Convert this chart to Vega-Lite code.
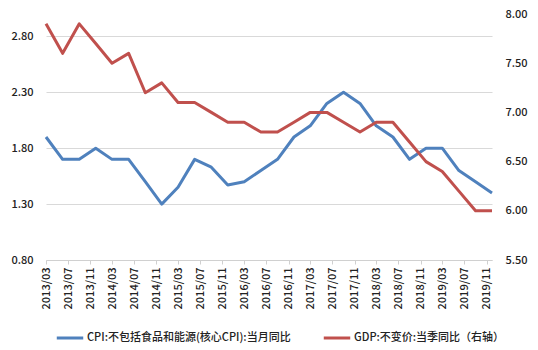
{
  "$schema": "https://vega.github.io/schema/vega-lite/v6.json",
  "width": 446,
  "height": 246,
  "autosize": {"type": "none"},
  "padding": {"left": 46, "top": 14, "right": 46, "bottom": 90},
  "background": "white",
  "config": {
    "view": {"stroke": null},
    "font": "Noto Sans CJK SC",
    "axis": {"labelFont": "Noto Sans CJK SC", "labelColor": "#222222", "labelFontSize": 11, "labelFontWeight": 500, "titleFontSize": 0},
    "legend": {"labelFont": "Noto Sans CJK SC"}
  },
  "data": {
    "values": [
      {"date": "2013-03-01", "series": "CPI:不包括食品和能源(核心CPI):当月同比", "value": 1.9},
      {"date": "2013-06-01", "series": "CPI:不包括食品和能源(核心CPI):当月同比", "value": 1.7},
      {"date": "2013-09-01", "series": "CPI:不包括食品和能源(核心CPI):当月同比", "value": 1.7},
      {"date": "2013-12-01", "series": "CPI:不包括食品和能源(核心CPI):当月同比", "value": 1.8},
      {"date": "2014-03-01", "series": "CPI:不包括食品和能源(核心CPI):当月同比", "value": 1.7},
      {"date": "2014-06-01", "series": "CPI:不包括食品和能源(核心CPI):当月同比", "value": 1.7},
      {"date": "2014-09-01", "series": "CPI:不包括食品和能源(核心CPI):当月同比", "value": 1.5},
      {"date": "2014-12-01", "series": "CPI:不包括食品和能源(核心CPI):当月同比", "value": 1.3},
      {"date": "2015-03-01", "series": "CPI:不包括食品和能源(核心CPI):当月同比", "value": 1.45},
      {"date": "2015-06-01", "series": "CPI:不包括食品和能源(核心CPI):当月同比", "value": 1.7},
      {"date": "2015-09-01", "series": "CPI:不包括食品和能源(核心CPI):当月同比", "value": 1.63},
      {"date": "2015-12-01", "series": "CPI:不包括食品和能源(核心CPI):当月同比", "value": 1.47},
      {"date": "2016-03-01", "series": "CPI:不包括食品和能源(核心CPI):当月同比", "value": 1.5},
      {"date": "2016-06-01", "series": "CPI:不包括食品和能源(核心CPI):当月同比", "value": 1.6},
      {"date": "2016-09-01", "series": "CPI:不包括食品和能源(核心CPI):当月同比", "value": 1.7},
      {"date": "2016-12-01", "series": "CPI:不包括食品和能源(核心CPI):当月同比", "value": 1.9},
      {"date": "2017-03-01", "series": "CPI:不包括食品和能源(核心CPI):当月同比", "value": 2.0},
      {"date": "2017-06-01", "series": "CPI:不包括食品和能源(核心CPI):当月同比", "value": 2.2},
      {"date": "2017-09-01", "series": "CPI:不包括食品和能源(核心CPI):当月同比", "value": 2.3},
      {"date": "2017-12-01", "series": "CPI:不包括食品和能源(核心CPI):当月同比", "value": 2.2},
      {"date": "2018-03-01", "series": "CPI:不包括食品和能源(核心CPI):当月同比", "value": 2.0},
      {"date": "2018-06-01", "series": "CPI:不包括食品和能源(核心CPI):当月同比", "value": 1.9},
      {"date": "2018-09-01", "series": "CPI:不包括食品和能源(核心CPI):当月同比", "value": 1.7},
      {"date": "2018-12-01", "series": "CPI:不包括食品和能源(核心CPI):当月同比", "value": 1.8},
      {"date": "2019-03-01", "series": "CPI:不包括食品和能源(核心CPI):当月同比", "value": 1.8},
      {"date": "2019-06-01", "series": "CPI:不包括食品和能源(核心CPI):当月同比", "value": 1.6},
      {"date": "2019-09-01", "series": "CPI:不包括食品和能源(核心CPI):当月同比", "value": 1.5},
      {"date": "2019-12-01", "series": "CPI:不包括食品和能源(核心CPI):当月同比", "value": 1.4},
      {"date": "2013-03-01", "series": "GDP:不变价:当季同比（右轴）", "value": 7.9},
      {"date": "2013-06-01", "series": "GDP:不变价:当季同比（右轴）", "value": 7.6},
      {"date": "2013-09-01", "series": "GDP:不变价:当季同比（右轴）", "value": 7.9},
      {"date": "2013-12-01", "series": "GDP:不变价:当季同比（右轴）", "value": 7.7},
      {"date": "2014-03-01", "series": "GDP:不变价:当季同比（右轴）", "value": 7.5},
      {"date": "2014-06-01", "series": "GDP:不变价:当季同比（右轴）", "value": 7.6},
      {"date": "2014-09-01", "series": "GDP:不变价:当季同比（右轴）", "value": 7.2},
      {"date": "2014-12-01", "series": "GDP:不变价:当季同比（右轴）", "value": 7.3},
      {"date": "2015-03-01", "series": "GDP:不变价:当季同比（右轴）", "value": 7.1},
      {"date": "2015-06-01", "series": "GDP:不变价:当季同比（右轴）", "value": 7.1},
      {"date": "2015-09-01", "series": "GDP:不变价:当季同比（右轴）", "value": 7.0},
      {"date": "2015-12-01", "series": "GDP:不变价:当季同比（右轴）", "value": 6.9},
      {"date": "2016-03-01", "series": "GDP:不变价:当季同比（右轴）", "value": 6.9},
      {"date": "2016-06-01", "series": "GDP:不变价:当季同比（右轴）", "value": 6.8},
      {"date": "2016-09-01", "series": "GDP:不变价:当季同比（右轴）", "value": 6.8},
      {"date": "2016-12-01", "series": "GDP:不变价:当季同比（右轴）", "value": 6.9},
      {"date": "2017-03-01", "series": "GDP:不变价:当季同比（右轴）", "value": 7.0},
      {"date": "2017-06-01", "series": "GDP:不变价:当季同比（右轴）", "value": 7.0},
      {"date": "2017-09-01", "series": "GDP:不变价:当季同比（右轴）", "value": 6.9},
      {"date": "2017-12-01", "series": "GDP:不变价:当季同比（右轴）", "value": 6.8},
      {"date": "2018-03-01", "series": "GDP:不变价:当季同比（右轴）", "value": 6.9},
      {"date": "2018-06-01", "series": "GDP:不变价:当季同比（右轴）", "value": 6.9},
      {"date": "2018-09-01", "series": "GDP:不变价:当季同比（右轴）", "value": 6.7},
      {"date": "2018-12-01", "series": "GDP:不变价:当季同比（右轴）", "value": 6.5},
      {"date": "2019-03-01", "series": "GDP:不变价:当季同比（右轴）", "value": 6.4},
      {"date": "2019-06-01", "series": "GDP:不变价:当季同比（右轴）", "value": 6.2},
      {"date": "2019-09-01", "series": "GDP:不变价:当季同比（右轴）", "value": 6.0},
      {"date": "2019-12-01", "series": "GDP:不变价:当季同比（右轴）", "value": 6.0}
    ]
  },
  "encoding": {
    "x": {
      "field": "date",
      "type": "temporal",
      "scale": {"type": "utc", "domain": [{"year": 2013, "month": 3, "date": 1, "utc": true}, {"year": 2019, "month": 12, "date": 1, "utc": true}]},
      "axis": {
        "title": null,
        "labelExpr": "utcFormat(datum.value, '%Y/%m')",
        "labelAngle": -90,
        "labelPadding": 3,
        "tickSize": 4,
        "tickColor": "#d0d0d0",
        "domainColor": "#d0d0d0",
        "grid": false,
        "values": [
          {"year": 2013, "month": 3, "date": 1, "utc": true},
          {"year": 2013, "month": 7, "date": 1, "utc": true},
          {"year": 2013, "month": 11, "date": 1, "utc": true},
          {"year": 2014, "month": 3, "date": 1, "utc": true},
          {"year": 2014, "month": 7, "date": 1, "utc": true},
          {"year": 2014, "month": 11, "date": 1, "utc": true},
          {"year": 2015, "month": 3, "date": 1, "utc": true},
          {"year": 2015, "month": 7, "date": 1, "utc": true},
          {"year": 2015, "month": 11, "date": 1, "utc": true},
          {"year": 2016, "month": 3, "date": 1, "utc": true},
          {"year": 2016, "month": 7, "date": 1, "utc": true},
          {"year": 2016, "month": 11, "date": 1, "utc": true},
          {"year": 2017, "month": 3, "date": 1, "utc": true},
          {"year": 2017, "month": 7, "date": 1, "utc": true},
          {"year": 2017, "month": 11, "date": 1, "utc": true},
          {"year": 2018, "month": 3, "date": 1, "utc": true},
          {"year": 2018, "month": 7, "date": 1, "utc": true},
          {"year": 2018, "month": 11, "date": 1, "utc": true},
          {"year": 2019, "month": 3, "date": 1, "utc": true},
          {"year": 2019, "month": 7, "date": 1, "utc": true},
          {"year": 2019, "month": 11, "date": 1, "utc": true}
        ]
      }
    },
    "color": {
      "field": "series",
      "type": "nominal",
      "scale": {
        "domain": ["CPI:不包括食品和能源(核心CPI):当月同比", "GDP:不变价:当季同比（右轴）"],
        "range": ["#4F81BD", "#C0504D"]
      },
      "legend": {
        "title": null,
        "orient": "none",
        "legendX": 9,
        "legendY": 309,
        "direction": "horizontal",
        "symbolType": "stroke",
        "symbolSize": 700,
        "symbolStrokeWidth": 3,
        "labelFontSize": 11,
        "labelFontWeight": 500,
        "labelColor": "#222222",
        "labelOffset": 2,
        "labelLimit": 400,
        "columnPadding": 26
      }
    }
  },
  "layer": [
    {
      "transform": [{"filter": "datum.series === 'CPI:不包括食品和能源(核心CPI):当月同比'"}],
      "mark": {"type": "line", "strokeWidth": 3, "strokeJoin": "round"},
      "encoding": {
        "y": {
          "field": "value",
          "type": "quantitative",
          "scale": {"domain": [0.8, 3.0], "nice": false, "zero": false},
          "axis": {
            "title": null,
            "orient": "left",
            "values": [0.8, 1.3, 1.8, 2.3, 2.8],
            "format": ".2f",
            "domain": false,
            "ticks": false,
            "labelPadding": 13,
            "grid": true,
            "gridColor": "#d9d9d9",
            "gridWidth": 1
          }
        }
      }
    },
    {
      "transform": [{"filter": "datum.series === 'GDP:不变价:当季同比（右轴）'"}],
      "mark": {"type": "line", "strokeWidth": 3, "strokeJoin": "round"},
      "encoding": {
        "y": {
          "field": "value",
          "type": "quantitative",
          "scale": {"domain": [5.5, 8.0], "nice": false, "zero": false},
          "axis": {
            "title": null,
            "orient": "right",
            "values": [5.5, 6.0, 6.5, 7.0, 7.5, 8.0],
            "format": ".2f",
            "domain": false,
            "ticks": false,
            "labelPadding": 13,
            "grid": false
          }
        }
      }
    }
  ],
  "resolve": {"scale": {"y": "independent"}}
}
